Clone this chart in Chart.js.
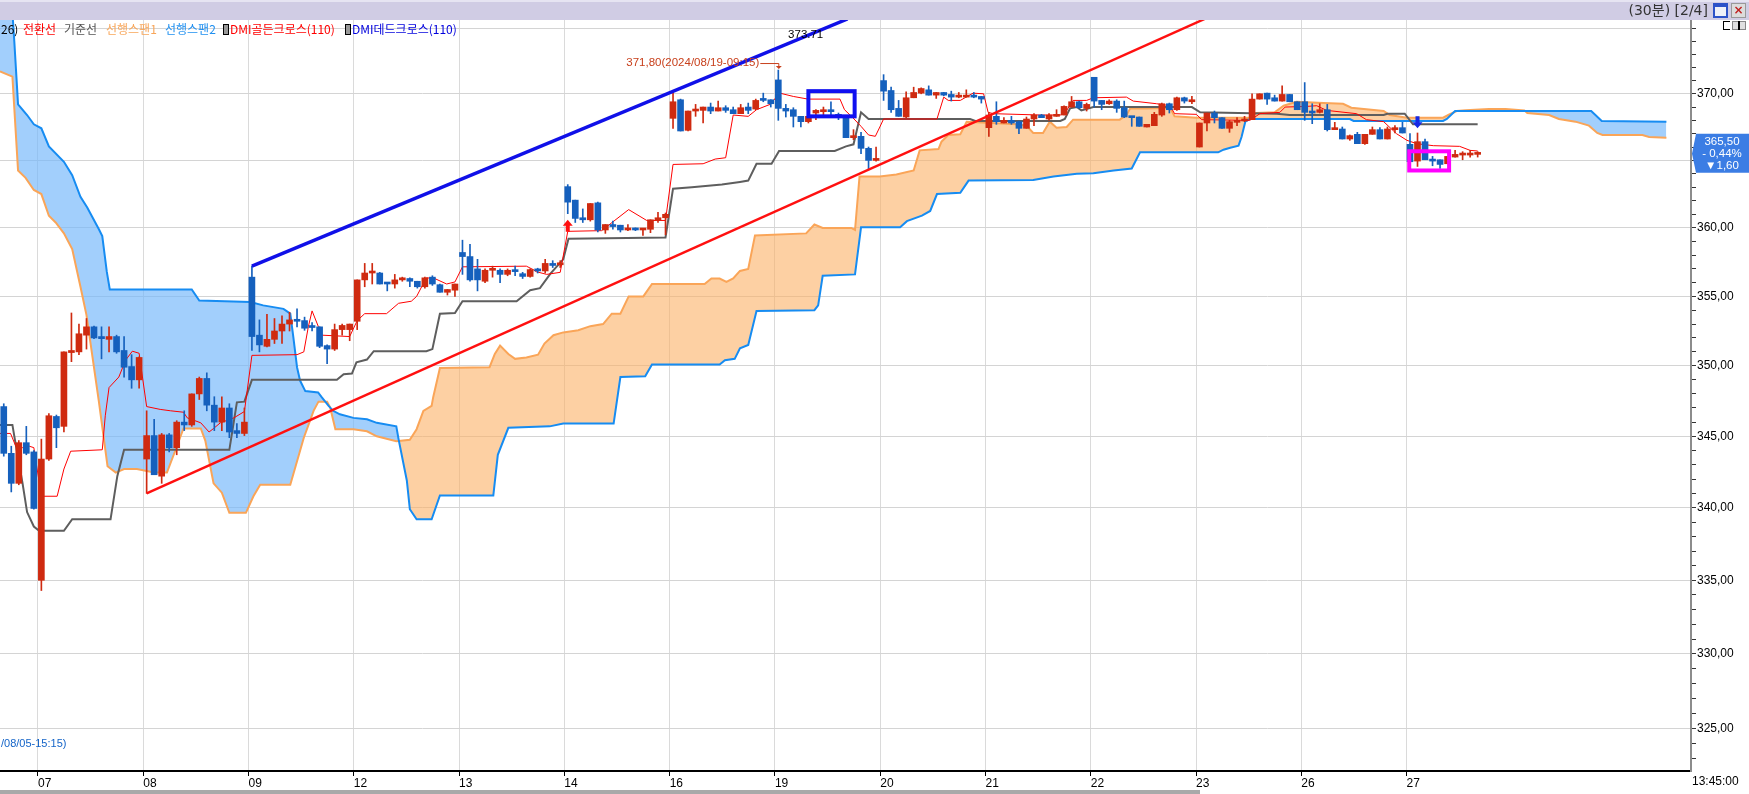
<!DOCTYPE html>
<html>
<head>
<meta charset="utf-8">
<script src="https://cdn.jsdelivr.net/npm/chart.js@4.4.1/dist/chart.umd.min.js"></script>
<style>
  html, body { margin: 0; padding: 0; background: #fff; }
  #wrap { position: relative; width: 1749px; height: 794px; overflow: hidden;
          font-family: "Noto Sans CJK KR", "Liberation Sans", sans-serif; }
  #title { position: absolute; left: 0; top: 0; width: 1749px; height: 20px;
           background: #d0cce4; border-top: 2px solid #e6e4f2; box-sizing: border-box; }
  #title .cap { position: absolute; right: 41px; top: 0; font: 14px/17px "DejaVu Sans", "Noto Sans CJK KR", sans-serif; color: #333; }
  .btn { position: absolute; top: 1px; width: 15px; height: 15px; box-sizing: border-box; }
  #chartBox { position: absolute; left: 0; top: 20px; width: 1749px; height: 774px; }
  #legend span { position: absolute; top: 21px; font-size: 12px; line-height: 15px; white-space: nowrap; }
  #legend .mk { top: 24px; width: 4px; height: 9px; background: #999; border: 1px solid #000; }
  #icons div { position: absolute; top: 21px; height: 9px; box-sizing: border-box; }
  #scroll { position: absolute; left: 0; top: 790px; width: 1200px; height: 4px; background: #a9a9a9; }
</style>
</head>
<body>
<div id="wrap">
  <div id="chartBox"><canvas id="chart" width="1749" height="774"></canvas></div>
  <div id="title">
    <span class="cap">(30분) [2/4]</span>
    <div class="btn" style="left:1713px; border:2px solid #2c52c8; border-top-width:4px; background:#eef0f8;"></div>
    <div class="btn" style="left:1731px; background:#dcdcdc; border:1px solid #999; color:#c02020;
         font:bold 12px/13px 'DejaVu Sans'; text-align:center;">×</div>
  </div>
  <div id="icons">
    <div style="left:1723px; width:7px; border:1px solid #000; border-right:none;"></div>
    <div style="left:1732px; width:14px; background:#e0e0e0; border:1px solid #888;"></div>
    <div style="left:1738px; width:2px; background:#000;"></div>
  </div>
  <div id="legend">
    <span style="left:1px; color:#000;">26)</span>
    <span style="left:23px; color:#ff0000;">전환선</span>
    <span style="left:64px; color:#555555;">기준선</span>
    <span style="left:106px; color:#f8a65a;">선행스팬1</span>
    <span style="left:165px; color:#1e8ff0;">선행스팬2</span>
    <span class="mk" style="left:223px;"></span>
    <span style="left:230px; color:#ff0000;">DMI골든크로스(110)</span>
    <span class="mk" style="left:345px;"></span>
    <span style="left:352px; color:#0000dd;">DMI데드크로스(110)</span>
  </div>
  <div id="scroll"></div>
</div>
<script>
// 30-minute bars, 14 per session. The first 5 bars on screen are the tail of 08/06.
const dayLabels = ['07', '08', '09', '12', '13', '14', '16', '19', '20', '21', '22', '23', '26', '27'];
const barsPerDay = 14;
const firstDayBar = 5;
const lastTime = '13:45:00';
const prevClose = 367.10;

const opens = [
  347.1, 343.8, 341.7, 344.55, 343.9,
  335.0, 343.4, 346.4, 345.7, 350.95, 351.0, 352.2, 352.8, 352.1, 351.9, 352.1, 351.1, 349.95, 349.0,
  343.4, 345.05, 342.2, 345.1, 344.2, 346.0, 345.8, 348.0, 349.1, 347.2, 346.0, 347.0, 345.4, 345.2,
  356.4, 352.2, 351.4, 351.9, 352.5, 353.0, 353.25, 353.25, 352.8, 352.8, 351.45, 351.2, 352.6, 352.6,
  353.2, 356.2, 356.7, 356.7, 355.95, 355.9, 356.2, 356.3, 356.1, 355.7, 356.4, 355.85, 355.3, 355.45,
  358.2, 357.9, 357.0, 356.1, 356.9, 356.9, 356.6, 356.85, 356.65, 356.45, 357.0, 356.85, 357.4, 357.3,
  363.05, 362.05, 360.75, 360.6, 361.85, 359.85, 360.25, 360.2, 359.85, 360.0, 359.85, 359.9, 360.55, 360.75,
  368.15, 369.55, 367.25, 368.7, 368.75, 369.0, 368.7, 368.95, 368.8, 368.5, 369.0, 368.85, 369.6, 369.55,
  371.05, 368.9, 368.8, 368.3, 367.9, 368.55, 368.65, 368.8, 368.4, 368.3, 366.7, 366.8, 365.9, 365.0,
  371.0, 370.25, 368.9, 368.25, 369.7, 370.05, 370.3, 369.9, 370.1, 369.95, 369.75, 369.75, 369.9, 369.8,
  367.45, 368.3, 367.8, 368.0, 367.9, 367.4, 368.1, 368.4, 368.1, 368.3, 368.4, 369.0, 369.4, 368.9,
  371.25, 369.5, 369.25, 369.45, 368.95, 368.25, 368.25, 367.5, 367.6, 368.4, 369.25, 368.8, 369.7, 369.4,
  366.0, 367.8, 368.55, 368.2, 367.4, 367.85, 367.95, 368.05, 369.6, 370.05, 369.7, 369.45, 369.95, 369.4,
  369.4, 368.6, 368.6, 368.8, 367.3, 367.35, 366.6, 366.95, 366.25, 366.95, 367.3, 366.6, 367.3, 367.45,
  366.2, 364.95, 366.4, 365.05, 365.05, 364.75, 365.25, 365.4, 365.4, 365.45
];
const highs = [
  347.3, 344.3, 344.7, 345.7, 344.0,
  344.8, 346.6, 346.5, 351.0, 353.8, 353.0, 353.4, 352.85, 352.8, 352.8, 352.2, 352.1, 350.8, 350.65,
  346.8, 346.2, 345.2, 345.2, 346.1, 346.8, 348.0, 349.2, 349.5, 347.8, 347.8, 347.3, 345.9, 347.0,
  357.2, 353.3, 353.7, 353.4, 353.6, 353.85, 354.1, 353.5, 353.1, 352.8, 351.5, 353.0, 353.0, 353.0,
  356.2, 357.4, 357.4, 356.75, 356.0, 356.6, 356.4, 356.35, 356.1, 356.4, 356.5, 355.9, 355.5, 355.9,
  359.1, 358.8, 357.7, 357.0, 357.2, 357.0, 357.0, 357.2, 356.75, 357.0, 357.05, 357.7, 357.6, 357.6,
  363.2, 362.05, 361.4, 361.8, 361.9, 360.25, 360.5, 360.2, 360.25, 360.0, 359.95, 360.6, 361.15, 361.1,
  370.2, 369.6, 368.7, 369.2, 369.0, 369.3, 369.45, 369.1, 369.0, 369.2, 369.3, 369.6, 370.05, 369.55,
  371.8, 369.2, 368.95, 368.3, 368.55, 368.8, 369.0, 369.4, 368.55, 368.3, 367.3, 367.1, 366.0, 366.0,
  371.45, 370.5, 369.5, 370.15, 370.5, 370.45, 370.6, 370.1, 370.1, 370.2, 370.1, 370.3, 370.1, 369.8,
  368.6, 369.4, 368.2, 368.3, 367.95, 368.25, 368.5, 368.45, 368.5, 368.8, 369.1, 369.8, 369.45, 369.3,
  371.25, 369.5, 369.55, 369.55, 369.45, 368.25, 368.25, 367.7, 368.6, 369.3, 369.3, 369.75, 369.75, 369.8,
  367.8, 368.55, 368.7, 368.2, 368.0, 368.2, 368.3, 370.0, 370.0, 370.05, 369.9, 370.6, 369.95, 369.4,
  370.85, 369.25, 369.25, 369.2, 367.85, 367.5, 366.9, 367.1, 366.95, 367.5, 367.45, 367.5, 367.6, 367.85,
  367.0, 367.05, 366.6, 365.3, 365.05, 365.3, 365.75, 365.65, 365.75, 365.65
];
const lows = [
  343.6, 341.1, 341.6, 343.7, 339.9,
  334.3, 343.3, 344.2, 345.3, 350.3, 350.8, 351.2, 351.95, 350.5, 351.0, 350.9, 349.2, 348.4, 348.4,
  341.0, 342.3, 341.7, 343.9, 343.7, 345.4, 345.7, 347.6, 346.8, 345.4, 345.4, 344.9, 344.9, 345.05,
  351.1, 351.0, 351.35, 351.6, 351.6, 352.5, 352.8, 352.55, 352.5, 351.3, 350.15, 351.1, 352.2, 351.8,
  352.6, 355.7, 355.9, 355.9, 355.4, 355.6, 356.1, 355.7, 355.6, 355.6, 355.8, 355.3, 355.1, 355.0,
  356.6, 356.1, 355.4, 356.0, 356.4, 356.0, 356.5, 356.5, 356.3, 356.4, 356.7, 356.7, 357.1, 357.1,
  361.05, 360.4, 360.4, 360.5, 359.7, 359.6, 359.9, 359.7, 359.8, 359.8, 359.45, 359.65, 360.4, 359.5,
  367.4, 367.2, 367.2, 368.3, 367.8, 368.5, 368.7, 368.6, 368.5, 368.5, 368.5, 368.8, 369.4, 369.0,
  368.0, 368.25, 367.5, 367.5, 367.8, 368.05, 368.3, 368.3, 368.05, 366.7, 366.55, 365.5, 364.3, 364.95,
  369.5, 368.6, 368.3, 368.2, 369.7, 370.0, 369.9, 369.65, 369.85, 369.45, 369.7, 369.75, 369.7, 369.3,
  366.8, 367.7, 367.8, 367.7, 367.0, 367.4, 367.6, 368.2, 368.0, 368.3, 368.4, 369.0, 368.9, 368.7,
  369.0, 368.8, 369.2, 368.6, 368.2, 367.55, 367.55, 367.5, 367.6, 368.3, 368.55, 368.75, 369.3, 369.25,
  366.0, 367.2, 367.8, 367.4, 367.1, 367.6, 367.9, 368.05, 369.6, 369.2, 369.45, 369.45, 369.4, 368.8,
  368.0, 367.75, 368.55, 367.2, 367.3, 366.6, 366.5, 366.25, 366.2, 366.95, 366.6, 366.6, 367.05, 367.05,
  364.9, 364.55, 365.05, 364.6, 364.4, 364.75, 365.25, 365.05, 365.25, 365.25
];
const closes = [
  343.8, 341.7, 344.55, 343.8, 339.95,
  343.4, 346.45, 345.6, 351.0, 351.1, 352.3, 352.8, 352.0, 351.95, 352.1, 351.0, 349.9, 349.0, 350.6,
  345.05, 342.3, 345.1, 344.2, 346.0, 345.8, 348.0, 349.1, 347.2, 346.0, 347.0, 345.3, 345.2, 346.0,
  352.1, 351.5, 351.9, 352.5, 353.0, 353.3, 353.2, 352.7, 352.75, 351.4, 351.2, 352.6, 352.9, 353.0,
  356.2, 356.7, 356.75, 355.9, 355.9, 356.2, 356.35, 356.1, 355.7, 356.35, 355.9, 355.3, 355.5, 355.9,
  357.9, 356.2, 356.2, 356.9, 357.0, 356.6, 356.9, 356.8, 356.45, 356.95, 356.85, 357.4, 357.25, 357.4,
  361.9, 360.7, 360.6, 361.8, 359.85, 360.25, 360.1, 359.85, 360.0, 359.85, 359.9, 360.6, 360.75, 361.0,
  369.4, 367.2, 368.7, 368.85, 369.0, 368.7, 368.95, 368.75, 368.5, 368.95, 368.75, 369.5, 369.5, 369.25,
  368.9, 368.7, 368.3, 367.9, 368.3, 368.75, 368.75, 368.65, 368.3, 366.7, 366.8, 365.9, 365.0, 365.1,
  370.2, 368.8, 368.3, 369.7, 370.1, 370.4, 369.9, 370.1, 369.9, 369.75, 369.8, 369.9, 369.75, 369.6,
  368.4, 367.9, 368.0, 367.8, 367.4, 368.1, 368.4, 368.2, 368.4, 368.45, 369.05, 369.4, 368.95, 369.2,
  369.45, 369.2, 369.45, 368.9, 368.25, 368.2, 367.55, 367.7, 368.45, 369.25, 368.8, 369.7, 369.45, 369.5,
  367.8, 368.55, 368.2, 367.4, 367.9, 368.0, 368.1, 369.6, 370.0, 369.6, 369.45, 369.95, 369.4, 368.8,
  368.6, 368.55, 368.8, 367.3, 367.35, 366.6, 366.85, 366.25, 366.95, 367.3, 366.6, 367.35, 367.35, 367.05,
  364.9, 366.4, 365.05, 364.95, 364.7, 365.3, 365.45, 365.45, 365.45, 365.5
];

// Ichimoku lines as [bar, price] turning points
const tenkan = [
  [-0.5, 345.2], [0.9, 345.2], [1.6, 344.3], [2.5, 344.2], [3.4, 344.3], [4, 344.2], [5, 340.8], [7.1, 340.8],
  [8, 342.7], [8.9, 343.95], [13.1, 344.05], [13.5, 346.45], [14, 348.45], [15.3, 349.2], [16.2, 350.4],
  [17.1, 351.05], [18, 350.9], [19, 347.1], [20.8, 346.9], [22.2, 346.8], [23.9, 346.7], [24.4, 346.3],
  [26.2, 345.95], [27.3, 345.3], [27.9, 345.55], [28.8, 345.95], [30.6, 346.3], [32, 346.75], [33, 350.75],
  [39, 350.8], [39.9, 351.0], [40.5, 352.8], [41, 353.95], [41.85, 352.8], [42.3, 352.2], [46, 352.1],
  [47, 353.25], [48, 353.75], [50.9, 353.75], [52.5, 354.5], [54.2, 354.65], [54.9, 355.0], [56.2, 356.35],
  [57.3, 356.3], [58.9, 355.9], [60, 356.05], [61, 357.15], [69.5, 357.2], [70.4, 356.95], [70.8, 356.8],
  [72.2, 356.6], [74, 356.75], [75, 359.75], [79.5, 359.8], [83.1, 361.35], [85.5, 360.55], [88, 360.55],
  [89, 364.7], [93, 364.75], [94.6, 365.1], [96, 365.2], [97, 368.4], [99, 368.3], [100.1, 368.8],
  [101.9, 369.2], [103.2, 370.05], [105, 369.8], [106.95, 369.6], [111.2, 369.6], [111.8, 368.8],
  [112.9, 368.2], [114, 367.55], [115, 366.9], [115.9, 366.8], [116.5, 367.5], [117, 368.1], [124.1, 368.1],
  [125, 369.75], [125.6, 369.5], [127.2, 369.5], [128.9, 370.05], [130.3, 370.0], [130.9, 368.6],
  [131.6, 368.5], [137.8, 368.4], [140.5, 368.4], [141.35, 368.75], [142.2, 369.5], [144, 369.5],
  [144.9, 369.7], [149.3, 369.75], [150.2, 369.45], [153.3, 369.25], [155.1, 369.1], [155.7, 368.5],
  [158.6, 368.45], [159.3, 368.05], [165.7, 368.0], [167.05, 368.5], [169.7, 368.6], [170.4, 369.0],
  [173.3, 369.05], [174.6, 369.1], [175.9, 368.75], [179.9, 368.5], [181.2, 368.05], [183.5, 367.9],
  [185.2, 367.0], [186.6, 366.5], [187.9, 366.25], [190.1, 366.1], [193.6, 366.05], [195, 365.75], [196, 365.7]
];
const kijun = [
  [-0.5, 345.8], [1.15, 345.8], [1.6, 344.4], [2.5, 341.7], [3.1, 339.7], [4, 338.7], [4.7, 338.4], [8, 338.4],
  [9.1, 339.2], [14.2, 339.2], [15.1, 342.2], [16, 344.05], [30, 344.05], [31, 347.4], [32, 347.45],
  [33, 349.0], [44.3, 349.0], [45.2, 349.4], [46.3, 349.45], [46.9, 350.25], [48.3, 350.45], [49.2, 351.05],
  [56.2, 351.05], [57, 351.2], [58, 353.75], [60, 353.8], [61, 354.65], [68.2, 354.65], [70, 355.45],
  [71.3, 355.6], [72.7, 356.65], [74.4, 357.7], [75.1, 359.2], [88, 359.3], [89, 362.9], [91.5, 363.0],
  [95.5, 363.2], [97.9, 363.4], [99, 363.5], [100.1, 364.75], [102.1, 364.75], [103.1, 365.7], [110.5, 365.7],
  [112, 366.05], [113, 366.2], [114, 368.6], [115, 368.1], [128.5, 368.1], [129.2, 367.95], [140.5, 367.95],
  [141.1, 368.1], [141.8, 368.9], [142.7, 369.0], [143.3, 368.75], [144.9, 369.0], [158, 369.0],
  [159.1, 368.6], [169.3, 368.5], [171, 368.4], [183.5, 368.4], [184, 368.5], [186.3, 368.5], [187.4, 367.7],
  [196, 367.7]
];
const span1 = [
  [-0.5, 371.7], [1.15, 371.3], [1.9, 364.25], [2.9, 363.7], [4, 362.8], [5, 362.5], [6, 360.9], [6.9, 360.4],
  [8, 359.6], [9.1, 358.45], [10.2, 355.7], [11, 353.65], [12.65, 347.45], [13.8, 342.9], [14.9, 342.45],
  [16, 342.7], [17.7, 342.7], [20, 342.45], [21.7, 342.45], [22.6, 343.7], [23.9, 345.55], [26.2, 345.55],
  [26.8, 344.7], [27.9, 341.7], [29, 341.05], [30, 339.65], [32.2, 339.65], [33.2, 340.8], [34.1, 341.6],
  [38.1, 341.6], [39.9, 344.9], [41.2, 346.8], [41.85, 347.45], [43, 347.45], [43.4, 347.05], [44.1, 345.5],
  [46.5, 345.5], [48.3, 345.35], [49.6, 345.0], [52.2, 344.65], [54, 344.75], [54.9, 345.5], [55.8, 346.8],
  [56.9, 347.15], [57.1, 347.75], [58, 349.85], [64.6, 349.9], [65.3, 350.85], [66, 351.45], [67.1, 350.85],
  [68, 350.5], [69.5, 350.6], [71.05, 350.8], [71.9, 351.6], [73.1, 352.2], [74.4, 352.4], [76.4, 352.55],
  [78, 352.85], [79.7, 353.0], [80.85, 353.75], [82, 353.75], [83.1, 355.0], [85.05, 355.0], [86.2, 355.9],
  [93.2, 355.9], [94.1, 356.3], [95.2, 356.3], [96.1, 356.05], [97, 356.3], [97.9, 356.85], [99, 357.0],
  [99.9, 359.45], [106.7, 359.6], [107.8, 360.25], [108.9, 360.0], [112.7, 360.0], [113.2, 359.85],
  [113.8, 363.8], [116.5, 363.8], [118.7, 363.95], [121, 364.25], [121.8, 365.75], [124.3, 365.85],
  [124.7, 366.4], [125.6, 366.9], [127.2, 366.95], [128.05, 367.9], [134.7, 367.7], [136, 367.6],
  [136.9, 367.05], [138.2, 367.05], [139.1, 367.9], [140, 367.45], [141.35, 367.5], [142.2, 368.05],
  [148.4, 368.05], [149.3, 368.4], [149.8, 368.9], [152, 368.9], [155.1, 368.95], [155.7, 368.3],
  [158.6, 368.2], [165.7, 368.2], [166.6, 368.55], [169, 368.6], [170.2, 369.1], [171.9, 369.4],
  [175.5, 369.3], [178.1, 369.25], [179.2, 368.95], [183.5, 368.7], [184.3, 368.4], [186.6, 368.2],
  [191.4, 368.2], [192.1, 368.4], [193.2, 368.7], [194.4, 368.75], [197.5, 368.85], [199.7, 368.85],
  [202.2, 368.75], [202.6, 368.55], [205.5, 368.4], [206.8, 368.1], [209, 367.9], [210.8, 367.6],
  [211.9, 367.05], [212.6, 366.9], [217.9, 366.9], [218.8, 366.75], [221.1, 366.7]
];
const span2 = [
  [-0.5, 383.0], [0.9, 378.5], [1.4, 374.0], [1.9, 369.2], [3.1, 368.4], [4, 367.7], [5, 367.4], [6, 366.05],
  [8, 364.9], [9.1, 363.9], [10.2, 362.3], [11.1, 361.5], [12.65, 359.9], [13.1, 359.4], [13.7, 356.8],
  [14.1, 355.5], [25, 355.5], [26, 354.7], [32.8, 354.6], [34.5, 354.35], [37.2, 354.1], [38.1, 353.75],
  [38.5, 352.1], [39, 349.9], [39.4, 348.95], [40.1, 348.2], [41.8, 348.1], [42.3, 347.75], [43.2, 347.15],
  [43.8, 346.8], [44.7, 346.55], [46.5, 346.3], [48.3, 346.2], [49.6, 345.95], [52.2, 345.7], [52.5, 344.8],
  [53.6, 341.9], [54, 339.9], [54.9, 339.2], [56.9, 339.2], [58, 340.85], [65.1, 340.85], [65.7, 343.7],
  [67.1, 345.6], [72.6, 345.7], [74.4, 345.9], [81.1, 345.9], [82, 349.2], [85.3, 349.25], [86.2, 350.1],
  [95.2, 350.1], [95.9, 350.4], [97.2, 350.5], [97.9, 351.25], [99, 351.5], [100.1, 353.95], [107.8, 354.0],
  [108.3, 354.35], [108.9, 356.5], [113.2, 356.6], [114, 360.05], [119.2, 360.05], [120.1, 360.5],
  [122.1, 360.9], [123.2, 361.25], [124.1, 362.5], [127.2, 362.6], [128.3, 363.5], [136.9, 363.55],
  [139.6, 363.8], [142.7, 364.0], [144.9, 364.05], [147.6, 364.25], [150, 364.4], [151.1, 365.6],
  [161.5, 365.6], [162.2, 365.8], [163.1, 365.95], [164.2, 366.1], [164.6, 366.75], [165.1, 367.9],
  [165.7, 368.1], [179, 368.1], [179.5, 367.95], [191.4, 367.95], [191.9, 368.1], [193, 368.7],
  [211.1, 368.7], [212.5, 367.95], [221.1, 367.9]
];

// drawn trend lines [bar, price]
const blueTrend = [[33, 357.2], [112.2, 375.7]];
const redTrend = [[19, 341.0], [159.7, 375.7]];

// DMI signals: [bar, price at the arrow tip]
const goldenCross = [[75, 360.6]];
const deadCross = [[188, 367.4]];

// highlight boxes: [bar from, bar to, price low, price high]
const blueBox = [107.0, 113.15, 368.3, 370.2];
const pinkBox = [186.9, 192.2, 364.25, 365.68];

const highNote = { bar: 103, price: 371.80, time: '2024/08/19-09:15' };
const trendNote = { bar: 104.3, price: 374.45, text: '373.71' };
const lowNote = '/08/05-15:15)';

const majorTicks = [325, 330, 335, 340, 345, 350, 355, 360, 365, 370, 375];

const up = '#cf2a10', down = '#1560bd';
const fmt = v => v.toFixed(2).replace('.', ',');
const pts = arr => arr.map(([x, y]) => ({ x, y }));
const candleColor = opens.map((o, i) => closes[i] >= o ? up : down);
const sans = '"Liberation Sans", Arial, sans-serif';

const overlay = {
  id: 'overlay',
  afterDatasetsDraw(chart) {
    const { ctx, chartArea: a, scales: { x, y } } = chart;
    ctx.save();
    ctx.beginPath();
    ctx.rect(a.left, a.top, a.right - a.left, a.bottom - a.top);
    ctx.clip();

    // boxes
    ctx.lineWidth = 4;
    [[blueBox, '#1010f0'], [pinkBox, '#ff00ff']].forEach(([b, c]) => {
      const x0 = x.getPixelForValue(b[0]), x1 = x.getPixelForValue(b[1]);
      const y0 = y.getPixelForValue(b[3]), y1 = y.getPixelForValue(b[2]);
      ctx.strokeStyle = c;
      ctx.strokeRect(x0, y0, x1 - x0, y1 - y0);
    });

    // signal arrows
    const arrow = (px, py, dir, color) => {
      const hw = 5, hh = 6, sw = 2, sh = 6;
      ctx.fillStyle = color;
      ctx.beginPath();
      ctx.moveTo(px, py);
      ctx.lineTo(px + hw, py - dir * hh);
      ctx.lineTo(px + sw, py - dir * hh);
      ctx.lineTo(px + sw, py - dir * (hh + sh));
      ctx.lineTo(px - sw, py - dir * (hh + sh));
      ctx.lineTo(px - sw, py - dir * hh);
      ctx.lineTo(px - hw, py - dir * hh);
      ctx.closePath();
      ctx.fill();
    };
    goldenCross.forEach(([b, p]) => arrow(x.getPixelForValue(b), y.getPixelForValue(p), -1, '#ff1010'));
    deadCross.forEach(([b, p]) => arrow(x.getPixelForValue(b), y.getPixelForValue(p), 1, '#1428e6'));

    // high note with leader
    const hx = x.getPixelForValue(highNote.bar);
    const hy = y.getPixelForValue(highNote.price);
    const ty = hy - 7;
    ctx.font = '11.5px ' + sans;
    ctx.fillStyle = '#c8401c';
    ctx.strokeStyle = '#c8401c';
    ctx.lineWidth = 1;
    ctx.textAlign = 'right';
    ctx.textBaseline = 'middle';
    ctx.fillText(fmt(highNote.price) + '(' + highNote.time + ')', hx - 19, ty);
    ctx.beginPath();
    ctx.moveTo(hx - 18, ty + 0.5);
    ctx.lineTo(hx + 0.5, ty + 0.5);
    ctx.lineTo(hx + 0.5, hy - 2);
    ctx.stroke();
    ctx.beginPath();
    ctx.moveTo(hx - 2.5, hy - 4);
    ctx.lineTo(hx + 3.5, hy - 4);
    ctx.lineTo(hx + 0.5, hy - 1);
    ctx.closePath();
    ctx.fill();

    // trend value
    ctx.fillStyle = '#000';
    ctx.textAlign = 'left';
    ctx.fillText(trendNote.text, x.getPixelForValue(trendNote.bar), y.getPixelForValue(trendNote.price));

    // low note at the bottom left
    ctx.fillStyle = '#1464c8';
    ctx.font = '11px ' + sans;
    ctx.fillText(lowNote, a.left + 1, a.bottom - 27);
    ctx.restore();
  },
  afterDraw(chart) {
    const { ctx, chartArea: a, scales: { y } } = chart;
    const last = closes[closes.length - 1];
    const py = y.getPixelForValue(last);
    const diff = last - prevClose;
    const pct = diff / prevClose * 100;
    ctx.save();
    ctx.fillStyle = '#3b7de4';
    ctx.beginPath();
    ctx.moveTo(a.right + 1, py);
    ctx.lineTo(a.right + 5, py - 20);
    ctx.lineTo(1749, py - 20);
    ctx.lineTo(1749, py + 19);
    ctx.lineTo(a.right + 5, py + 19);
    ctx.closePath();
    ctx.fill();
    ctx.fillStyle = '#fff';
    ctx.font = '11.5px ' + sans;
    ctx.textAlign = 'center';
    ctx.textBaseline = 'middle';
    const cx = (a.right + 1749) / 2 + 2;
    ctx.fillText(fmt(last), cx, py - 12);
    ctx.fillText('- ' + fmt(Math.abs(pct)) + '%', cx, py);
    ctx.fillText((diff < 0 ? '▼' : '▲') + fmt(Math.abs(diff)), cx, py + 12);

    ctx.fillStyle = '#000';
    ctx.font = '12px ' + sans;
    ctx.textAlign = 'left';
    ctx.fillText(lastTime, a.right + 1, a.bottom + 11);
    ctx.restore();
  }
};

const lineBase = { type: 'line', pointRadius: 0, tension: 0, fill: false };

new Chart(document.getElementById('chart'), {
  type: 'bar',
  data: {
    datasets: [
      { ...lineBase, data: pts(span1), borderColor: '#faa558', borderWidth: 2, order: 20,
        fill: { target: '+1', above: 'rgba(252,176,102,0.6)', below: 'rgba(118,184,250,0.68)' } },
      { ...lineBase, data: pts(span2), borderColor: '#168cf2', borderWidth: 2, order: 19 },
      { ...lineBase, data: pts(kijun), borderColor: '#5e5e5e', borderWidth: 2, order: 15 },
      { ...lineBase, data: pts(tenkan), borderColor: '#ff0000', borderWidth: 1, order: 14 },
      { data: highs.map((h, i) => ({ x: i, y: [lows[i], h] })), backgroundColor: candleColor,
        barThickness: 1, grouped: false, order: 10 },
      { data: opens.map((o, i) => ({ x: i, y: [Math.min(o, closes[i]), Math.max(o, closes[i])] })),
        backgroundColor: candleColor, barThickness: 6, minBarLength: 2, grouped: false, order: 9 },
      { ...lineBase, data: pts(redTrend), borderColor: '#ff1010', borderWidth: 2.5, order: 5 },
      { ...lineBase, data: pts(blueTrend), borderColor: '#1010e8', borderWidth: 3.5, order: 4 }
    ]
  },
  options: {
    responsive: false,
    animation: false,
    devicePixelRatio: 1,
    events: [],
    layout: { padding: { left: 0, right: 0, top: 0, bottom: 5 } },
    plugins: { legend: { display: false }, tooltip: { enabled: false } },
    scales: {
      x: {
        type: 'linear', min: -0.5, max: 224.37, offset: false, bounds: 'data',
        afterBuildTicks: s => { s.ticks = dayLabels.map((_, d) => ({ value: firstDayBar + d * barsPerDay - 0.45 })); },
        afterFit: s => { s.height = 18; s.paddingLeft = 0; s.paddingRight = 0; },
        grid: { offset: false, color: '#dadada', tickColor: '#000', tickLength: 5 },
        border: { color: '#000', width: 2 },
        ticks: { autoSkip: false, maxRotation: 0, align: 'start', padding: 0, color: '#000',
                 font: { family: sans, size: 12 },
                 callback: (v, i) => dayLabels[i] }
      },
      y: {
        type: 'logarithmic', position: 'right', min: 322.2, max: 375.62, bounds: 'data',
        afterBuildTicks: s => {
          const t = [];
          for (let v = majorTicks[0] - 2; v <= majorTicks[majorTicks.length - 1]; v++) t.push({ value: v });
          s.ticks = t;
        },
        afterFit: s => { s.width = 58; s.paddingTop = 0; s.paddingBottom = 0; },
        grid: { color: c => (c.tick && majorTicks.includes(c.tick.value)) ? '#d4d4d4' : 'rgba(0,0,0,0)',
                tickColor: '#333', tickLength: 5 },
        border: { color: '#8c8c8c', width: 2 },
        ticks: { autoSkip: false, padding: 1, color: '#000',
                 font: { family: sans, size: 12 },
                 callback: v => (majorTicks.includes(v) && v < 375) ? fmt(v) : '' }
      }
    }
  },
  plugins: [overlay]
});
</script>
</body>
</html>
